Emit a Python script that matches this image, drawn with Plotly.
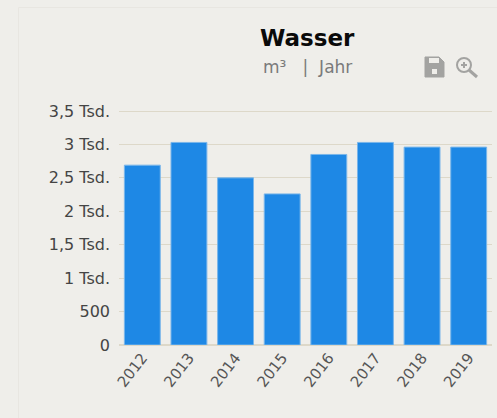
import plotly.graph_objects as go

years = ["2012", "2013", "2014", "2015", "2016", "2017", "2018", "2019"]
water = [2690, 3030, 2500, 2260, 2850, 3030, 2960, 2960]
tick_vals = [0, 500, 1000, 1500, 2000, 2500, 3000, 3500]
tick_text = ["0", "500", "1 Tsd.", "1,5 Tsd.", "2 Tsd.", "2,5 Tsd.", "3 Tsd.", "3,5 Tsd."]

W, H = 497, 418
L, R, T, B = 119, 5, 108, 73
BG = "#efeeea"
FONT = "DejaVu Sans"


def px(x):
    return (x - L) / (W - L - R)


def py(y):
    return (H - B - y) / (H - T - B)


def svg_path(cmds):
    out = []
    for c in cmds:
        if isinstance(c, str):
            out.append(c)
        else:
            out.append(f"{px(c[0]):.5f},{py(c[1]):.5f}")
    return " ".join(out)


GREY = "#a3a3a1"
save_icon = svg_path(["M", (425, 57), "L", (439, 57), "L", (444, 62), "L", (444, 77),
                      "L", (425, 77), "Z"])
shapes = [
    dict(type="line", xref="paper", yref="paper", x0=px(18.5), x1=px(18.5), y0=py(418), y1=py(7.5),
         line=dict(color="#e8e6e1", width=1), layer="below"),
    dict(type="line", xref="paper", yref="paper", x0=px(18.5), x1=px(497), y0=py(7.5), y1=py(7.5),
         line=dict(color="#e8e6e1", width=1), layer="below"),
    dict(type="path", xref="paper", yref="paper", path=save_icon, fillcolor=GREY,
         line=dict(color=GREY, width=1)),
    dict(type="rect", xref="paper", yref="paper", x0=px(429), x1=px(439), y0=py(58), y1=py(63),
         fillcolor=BG, line=dict(width=0)),
    dict(type="rect", xref="paper", yref="paper", x0=px(432), x1=px(437), y0=py(69), y1=py(74),
         fillcolor=BG, line=dict(width=0)),
    dict(type="circle", xref="paper", yref="paper", x0=px(457), x1=px(471), y0=py(58), y1=py(72),
         fillcolor="rgba(0,0,0,0)", line=dict(color=GREY, width=2)),
    dict(type="line", xref="paper", yref="paper", x0=px(469), x1=px(477), y0=py(70), y1=py(77),
         line=dict(color=GREY, width=3)),
    dict(type="line", xref="paper", yref="paper", x0=px(461), x1=px(467), y0=py(65), y1=py(65),
         line=dict(color=GREY, width=2)),
    dict(type="line", xref="paper", yref="paper", x0=px(464), x1=px(464), y0=py(62), y1=py(68),
         line=dict(color=GREY, width=2)),
]

fig = go.Figure(
    go.Bar(x=years, y=water, width=0.77, marker=dict(color="#1e88e5", line=dict(color="#7ab6ea", width=1)),
           showlegend=False)
)
fig.update_layout(
    width=W, height=H, autosize=False,
    paper_bgcolor=BG, plot_bgcolor=BG,
    margin=dict(l=L, r=R, t=T, b=B, pad=0),
    font=dict(family=FONT, size=13, color="#444444"),
    shapes=shapes,
    annotations=[
        dict(text="<b>Wasser</b>", xref="paper", yref="paper", x=px(307), y=py(38), showarrow=False,
             font=dict(family=FONT, size=23, color="#0a0a0a"), xanchor="center", yanchor="middle"),
        dict(text="m³   |  Jahr", xref="paper", yref="paper", x=px(307), y=py(67), showarrow=False,
             font=dict(family=FONT, size=17, color="#7a7a7a"), xanchor="center", yanchor="middle"),
    ],
)
fig.update_xaxes(type="category", tickangle=-52, showgrid=False, ticks="", showline=False, zeroline=False,
                 tickfont=dict(size=15, color="#555555"))
fig.update_yaxes(range=[0, 3545], tickvals=tick_vals, ticktext=tick_text, gridcolor="#ddd8c9", gridwidth=1,
                 zeroline=True, zerolinecolor="#ddd8c9", showline=False, ticks="", ticklabelstandoff=8,
                 tickfont=dict(size=16, color="#444444"))
fig.write_html(
    "out.html",
    config=dict(displayModeBar=False),
    post_script="document.body.style.margin='0';document.body.style.background='#efeeea';",
)
